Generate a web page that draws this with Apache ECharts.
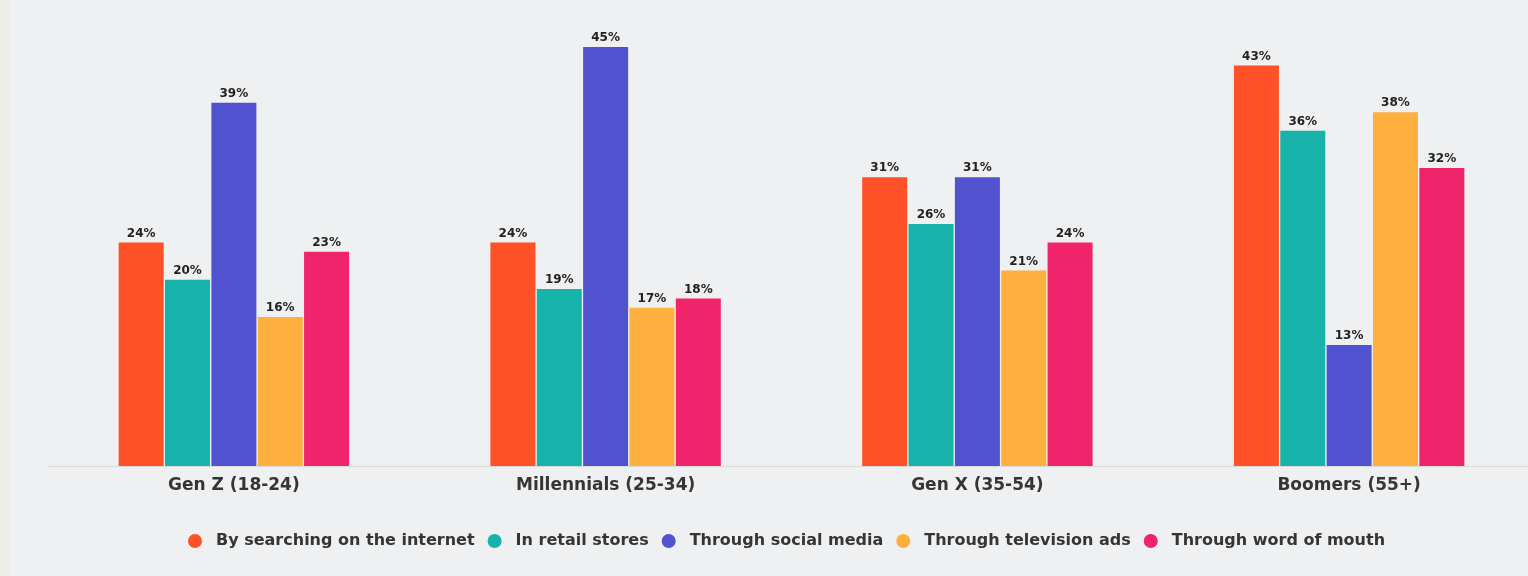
<!DOCTYPE html>
<html>
<head>
<meta charset="utf-8">
<script src="https://cdn.jsdelivr.net/npm/echarts@6/dist/echarts.min.js"></script>
<style>
html,body{margin:0;padding:0;background:#eff0f1;}
#c{width:1528px;height:576px;}
</style>
</head>
<body>
<div id="c"></div>
<script>
const categories = ['Gen Z (18-24)', 'Millennials (25-34)', 'Gen X (35-54)', 'Boomers (55+)'];
const seriesNames = ['By searching on the internet', 'In retail stores', 'Through social media', 'Through television ads', 'Through word of mouth'];
const internet = [24, 24, 31, 43];
const retail = [20, 19, 26, 36];
const social = [39, 45, 31, 13];
const tv = [16, 17, 21, 38];
const wordOfMouth = [23, 18, 24, 32];
const colors = ['#fe5127', '#17b2a9', '#5152cf', '#fdb03e', '#f0246a'];

const values = [internet, retail, social, tv, wordOfMouth];
const chart = echarts.init(document.getElementById('c'));
chart.setOption({
  backgroundColor: '#eff0f1',
  animation: false,
  graphic: [{type: 'rect', left: 0, top: 0, shape: {width: 10, height: 576}, style: {fill: '#eeede8'}}],
  grid: {left: 48, right: -7, top: 47, bottom: 110, outerBoundsMode: 'none'},
  legend: {
    top: 528,
    left: 183,
    icon: 'circle',
    itemWidth: 32,
    itemHeight: 14,
    itemGap: 13,
    textStyle: {fontFamily: 'DejaVu Sans', fontSize: 16, color: '#353535', fontWeight: 'bold'},
    data: seriesNames
  },
  xAxis: {
    type: 'category',
    data: categories,
    axisLine: {lineStyle: {color: '#d9d9d9', width: 1}},
    axisTick: {show: false},
    axisLabel: {fontFamily: 'DejaVu Sans', fontSize: 17, color: '#353535', fontWeight: 'bold', margin: 11}
  },
  yAxis: {type: 'value', min: 0, max: 45, show: false, splitLine: {show: false}},
  series: seriesNames.map((n, i) => ({
    name: n,
    type: 'bar',
    data: values[i],
    barWidth: 45,
    barGap: '3%',
    itemStyle: {color: colors[i]},
    label: {
      show: true,
      position: 'top',
      distance: 3,
      formatter: '{c}%',
      fontFamily: 'DejaVu Sans',
      fontWeight: 'bold',
      fontSize: 12,
      color: '#222'
    }
  }))
});
</script>
</body>
</html>
